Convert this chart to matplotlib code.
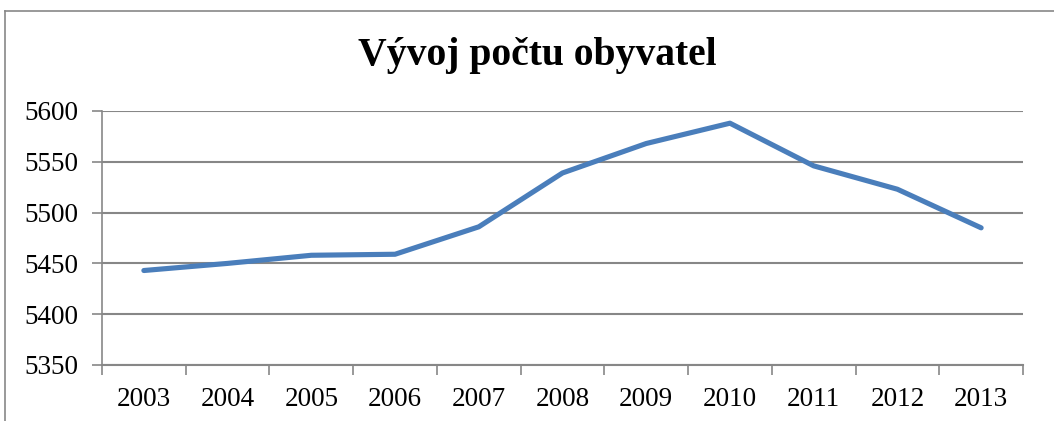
import matplotlib
matplotlib.use('Agg')
from matplotlib import pyplot as plt
from matplotlib.lines import Line2D

# data
roky = ['2003', '2004', '2005', '2006', '2007', '2008', '2009', '2010', '2011', '2012', '2013']
obyvatele = [5443, 5450, 5458, 5459, 5486, 5539, 5568, 5588, 5546, 5523, 5485]
y_ticks = [5350, 5400, 5450, 5500, 5550, 5600]

plt.rcParams['font.family'] = ['Liberation Serif', 'DejaVu Serif']

W, H = 1054, 421
fig = plt.figure(figsize=(W / 100, H / 100), dpi=100)
ax = fig.add_axes([102 / W, 1 - 365 / H, (1023 - 102) / W, (365 - 111) / H])

seda = '#878787'

x = list(range(len(roky)))
ax.plot(x, obyvatele, color='#4A7EBB', linewidth=3.7, solid_capstyle='round', zorder=3)

ax.set_xlim(-0.5, len(roky) - 0.5)
ax.set_ylim(5350, 5600)
ax.set_yticks(y_ticks)
ax.set_xticks([i - 0.5 for i in range(len(roky) + 1)])
ax.set_xticklabels([])
ax.set_xticks(x, minor=True)
ax.set_xticklabels(roky, minor=True)

ax.tick_params(axis='y', which='major', length=7, width=1.2, color=seda, labelsize=19.5, pad=10)
ax.tick_params(axis='x', which='major', length=7, width=1.2, color=seda)
ax.tick_params(axis='x', which='minor', length=0, labelsize=19.5, pad=16)

ax.yaxis.grid(True, color=seda, linewidth=1.5)
ax.set_axisbelow(True)
for s in ['top', 'right']:
    ax.spines[s].set_visible(False)
ax.spines['left'].set_color(seda)
ax.spines['left'].set_linewidth(1.2)
ax.spines['bottom'].set_color(seda)
ax.spines['bottom'].set_linewidth(1.5)

fig.text(537 / W, 1 - 55 / H, 'Vývoj počtu obyvatel', ha='center', va='center',
         fontsize=28.5, fontweight='bold')

# outer chart frame (only left and top edge visible)
fig.add_artist(Line2D([5 / W, 5 / W], [0, 1 - 11 / H], color=seda, linewidth=1.2))
fig.add_artist(Line2D([5 / W, 1], [1 - 11 / H, 1 - 11 / H], color=seda, linewidth=1.2))

fig.savefig('out.png', dpi=100)
